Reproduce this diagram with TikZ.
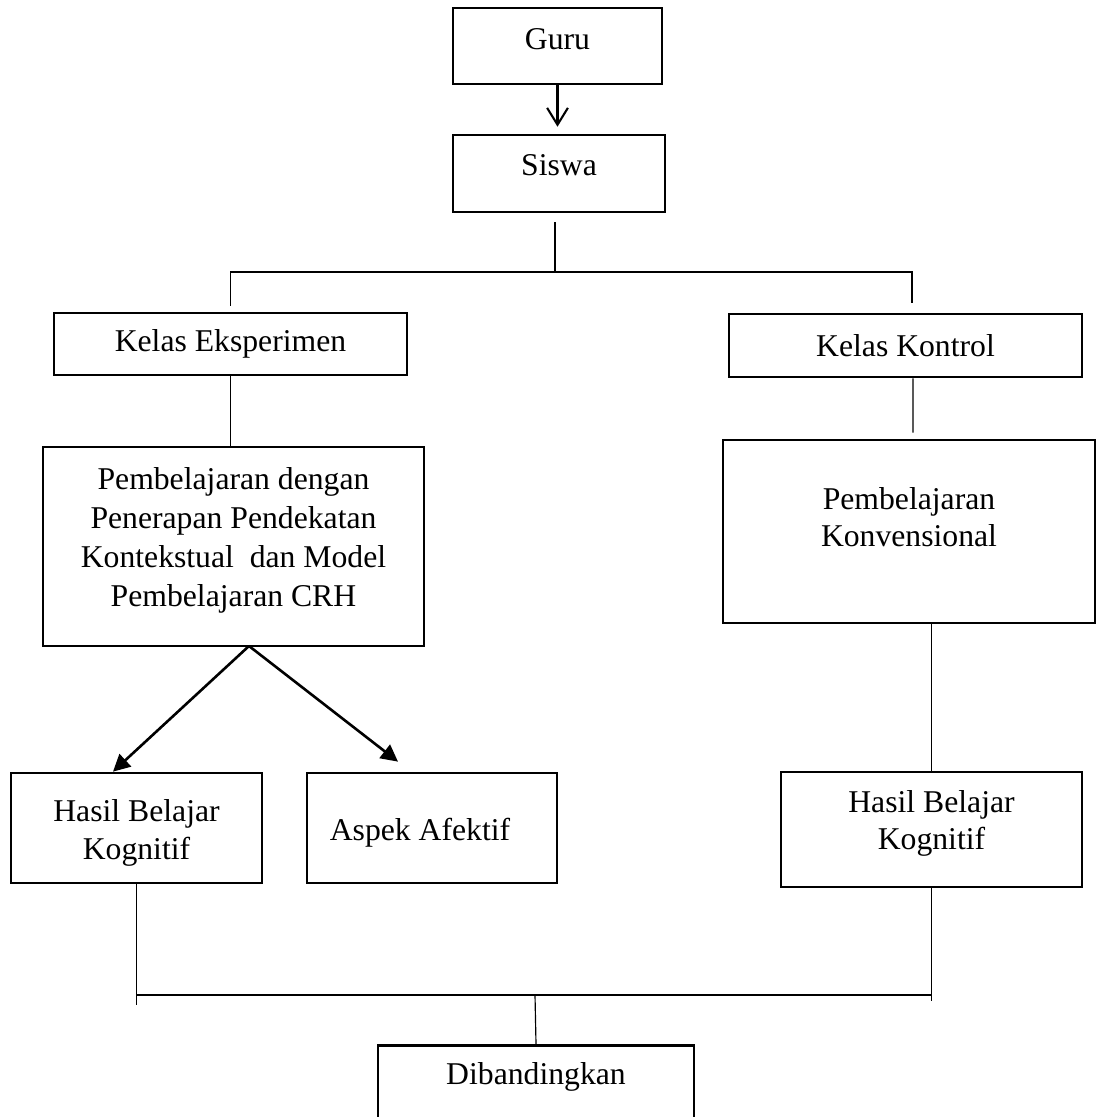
\documentclass[tikz,border=0pt]{standalone}
\usepackage{fontspec}
\setmainfont{Liberation Serif}
\usetikzlibrary{arrows.meta, calc}
% text a little higher (or lower) inside its box
\newcommand{\naik}[2]{\raisebox{#1}[\height][\depth]{\begin{tabular}{@{}c@{}}#2\end{tabular}}}

\begin{document}
\begin{tikzpicture}[x=0.385pt, y=-0.385pt]
\tikzset{kotak/.style={draw, rectangle, line width=1pt, inner sep=0pt, align=center, font=\fontsize{12.2}{14.5}\selectfont},
  garis/.style={line width=0.45pt},
  panah/.style={line width=1pt, -{Triangle[length=6.5pt, width=6.5pt]}}}
\useasboundingbox (0,0) rectangle (1097,1117);
\node[kotak, minimum width=80.5pt, minimum height=29.3pt] (guru) at (557.5,46) {\naik{1.5pt}{Guru}};
\node[kotak, minimum width=81.6pt, minimum height=29.6pt] (siswa) at (559,173.5) {\naik{2.3pt}{Siswa}};
\node[kotak, minimum width=135.9pt, minimum height=23.9pt] (kelasE) at (230.5,344) {Kelas Eksperimen};
\node[kotak, minimum width=135.9pt, minimum height=24.3pt] (kelasK) at (905.5,345.5) {Kelas Kontrol};
\node[kotak, minimum width=146.7pt, minimum height=76.6pt, font=\fontsize{12.2}{15}\selectfont] (pembE) at (233.5,546.5)
  {\naik{2.3pt}{Pembelajaran dengan\\Penerapan Pendekatan\\Kontekstual~ dan Model\\Pembelajaran CRH}};
\node[kotak, minimum width=143.2pt, minimum height=70.5pt] (konv) at (909,531.5) {\naik{4.2pt}{Pembelajaran\\Konvensional}};
\node[kotak, minimum width=96.6pt, minimum height=42.4pt] (hasilE) at (136.5,828) {\naik{-1.9pt}{Hasil Belajar\\Kognitif}};
\node[kotak, minimum width=96.3pt, minimum height=42.4pt] (aspek) at (432,828) {\kern-9.2pt\naik{-1.9pt}{Aspek Afektif}};
\node[kotak, minimum width=115.9pt, minimum height=44.3pt] (hasilK) at (931.5,829.5) {\naik{2.3pt}{Hasil Belajar\\Kognitif}};
\node[kotak, minimum width=121.7pt, text height=9pt, text depth=48pt, inner ysep=6pt, anchor=north] (banding) at (536,1044) {Dibandingkan};

\coordinate (cabang) at (555,272);
\coordinate (pecah) at (249,646);
\coordinate (bawah) at (535,995);

\draw[line width=0.8pt, -{Straight Barb[length=6.5pt, width=8pt]}, shorten >=2.7pt] (guru.south) -- (guru.south |- siswa.north);
\draw[garis] ($(siswa.south)+(-4,9)$) -- (cabang);
\draw[garis] ($(kelasE.north)+(0,-6)$) |- (cabang) -| ($(kelasK.north)+(6.5,-10)$);
\draw[garis] (kelasE.south) -- (kelasE.south |- pembE.north);
\draw[garis] ($(kelasK.south)+(7.5,0)$) -- ($(konv.north)+(4,-6)$);
\draw[panah] (pecah) -- ($(hasilE.north)+(-23.5,0)$);
\draw[panah] (pecah) -- ($(aspek.north)+(-34,-10)$);
\draw[garis] (hasilK.north |- konv.south) -- (hasilK.north);
\draw[garis] (hasilE.south) -- ($(hasilE.south)+(0,121)$);
\draw[garis] (hasilK.south) -- ($(hasilK.south)+(0,113)$);
\draw[garis] (hasilE.south |- bawah) -- (hasilK.south |- bawah);
\draw[garis] (bawah) -- (banding.north);
\end{tikzpicture}
\end{document}
